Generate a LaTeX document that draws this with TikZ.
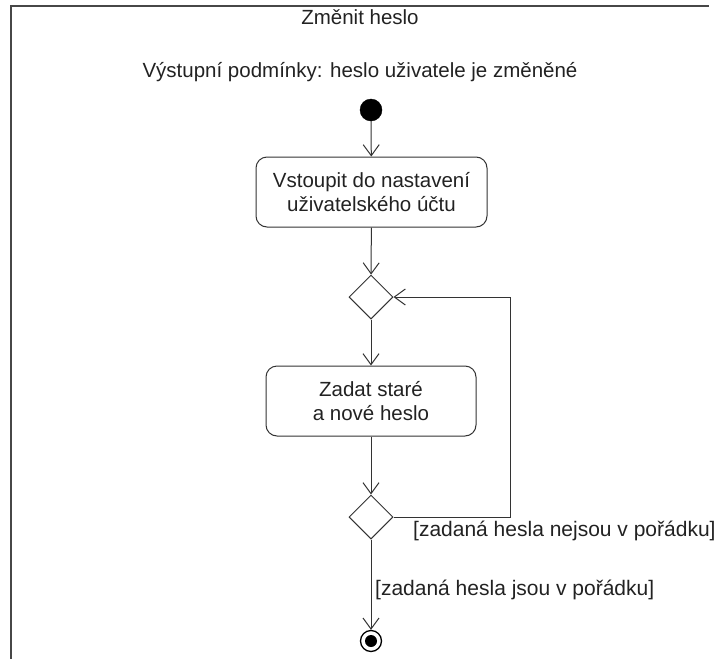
\documentclass[tikz,border=0pt]{standalone}
\usepackage{fontspec}
\setmainfont{Liberation Sans}
\usetikzlibrary{shapes.geometric,arrows.meta}
\definecolor{ink}{HTML}{333333}
\definecolor{txt}{HTML}{222222}
\tikzset{
  every node/.style={font=\fontsize{20.5}{24}\selectfont, text=txt},
  flow/.style={draw=ink, line width=1pt, -{Straight Barb[length=11pt,width=16pt,line width=1pt]}},
  action/.style={draw=ink, line width=1pt, rounded corners=11pt, align=center, inner sep=0pt},
  decision/.style={draw=ink, line width=1pt, diamond, minimum width=44pt, minimum height=44pt, inner sep=0pt},
  guard/.style={anchor=west, inner sep=0pt, font=\fontsize{21}{24}\selectfont},
}
\begin{document}
\begin{tikzpicture}[x=1pt,y=-1pt]
\useasboundingbox (0,0) rectangle (718,659);
% frame of the activity
\draw[draw=ink!90, line width=1.4pt] (11,659) -- (11,6) -- (709,6);
\node (title) at (360,17) {Změnit heslo};
\node (post) at (360,72) {Výstupní podmínky: heslo uživatele je změněné};
% start
\node (start) [circle, fill=black, draw=black, minimum size=22pt, inner sep=0pt] at (371,110) {};
% actions
\node (a1) [action, minimum width=231pt, minimum height=70pt] at (371.5,192) {Vstoupit do nastavení\\uživatelského účtu};
\node (d1) [decision] at (371,297) {};
\node (a2) [action, minimum width=210pt, minimum height=70pt] at (371,401) {Zadat staré\\a nové heslo};
\node (d2) [decision] at (371,517) {};
% end
\node (end) [circle, draw=black, line width=1.3pt, minimum size=21pt, inner sep=0pt] at (371,641) {};
\node [circle, fill=black, minimum size=12pt, inner sep=0pt] at (end) {};
\coordinate (loop) at (510,517);
% flows
\draw[flow] (start) -- (a1);
\draw[flow] (a1) -- (d1);
\draw[flow] (d1) -- (a2);
\draw[flow] (a2) -- (d2);
\draw[flow] (d2.east) -- (loop) |- (d1.east);
\draw[flow] (d2.south) -- (end.north);
% guards
\node[guard] (g1) at (413,531) {[zadaná hesla nejsou v pořádku]};
\node[guard] (g2) at (375,590) {[zadaná hesla jsou v pořádku]};
\end{tikzpicture}
\end{document}
